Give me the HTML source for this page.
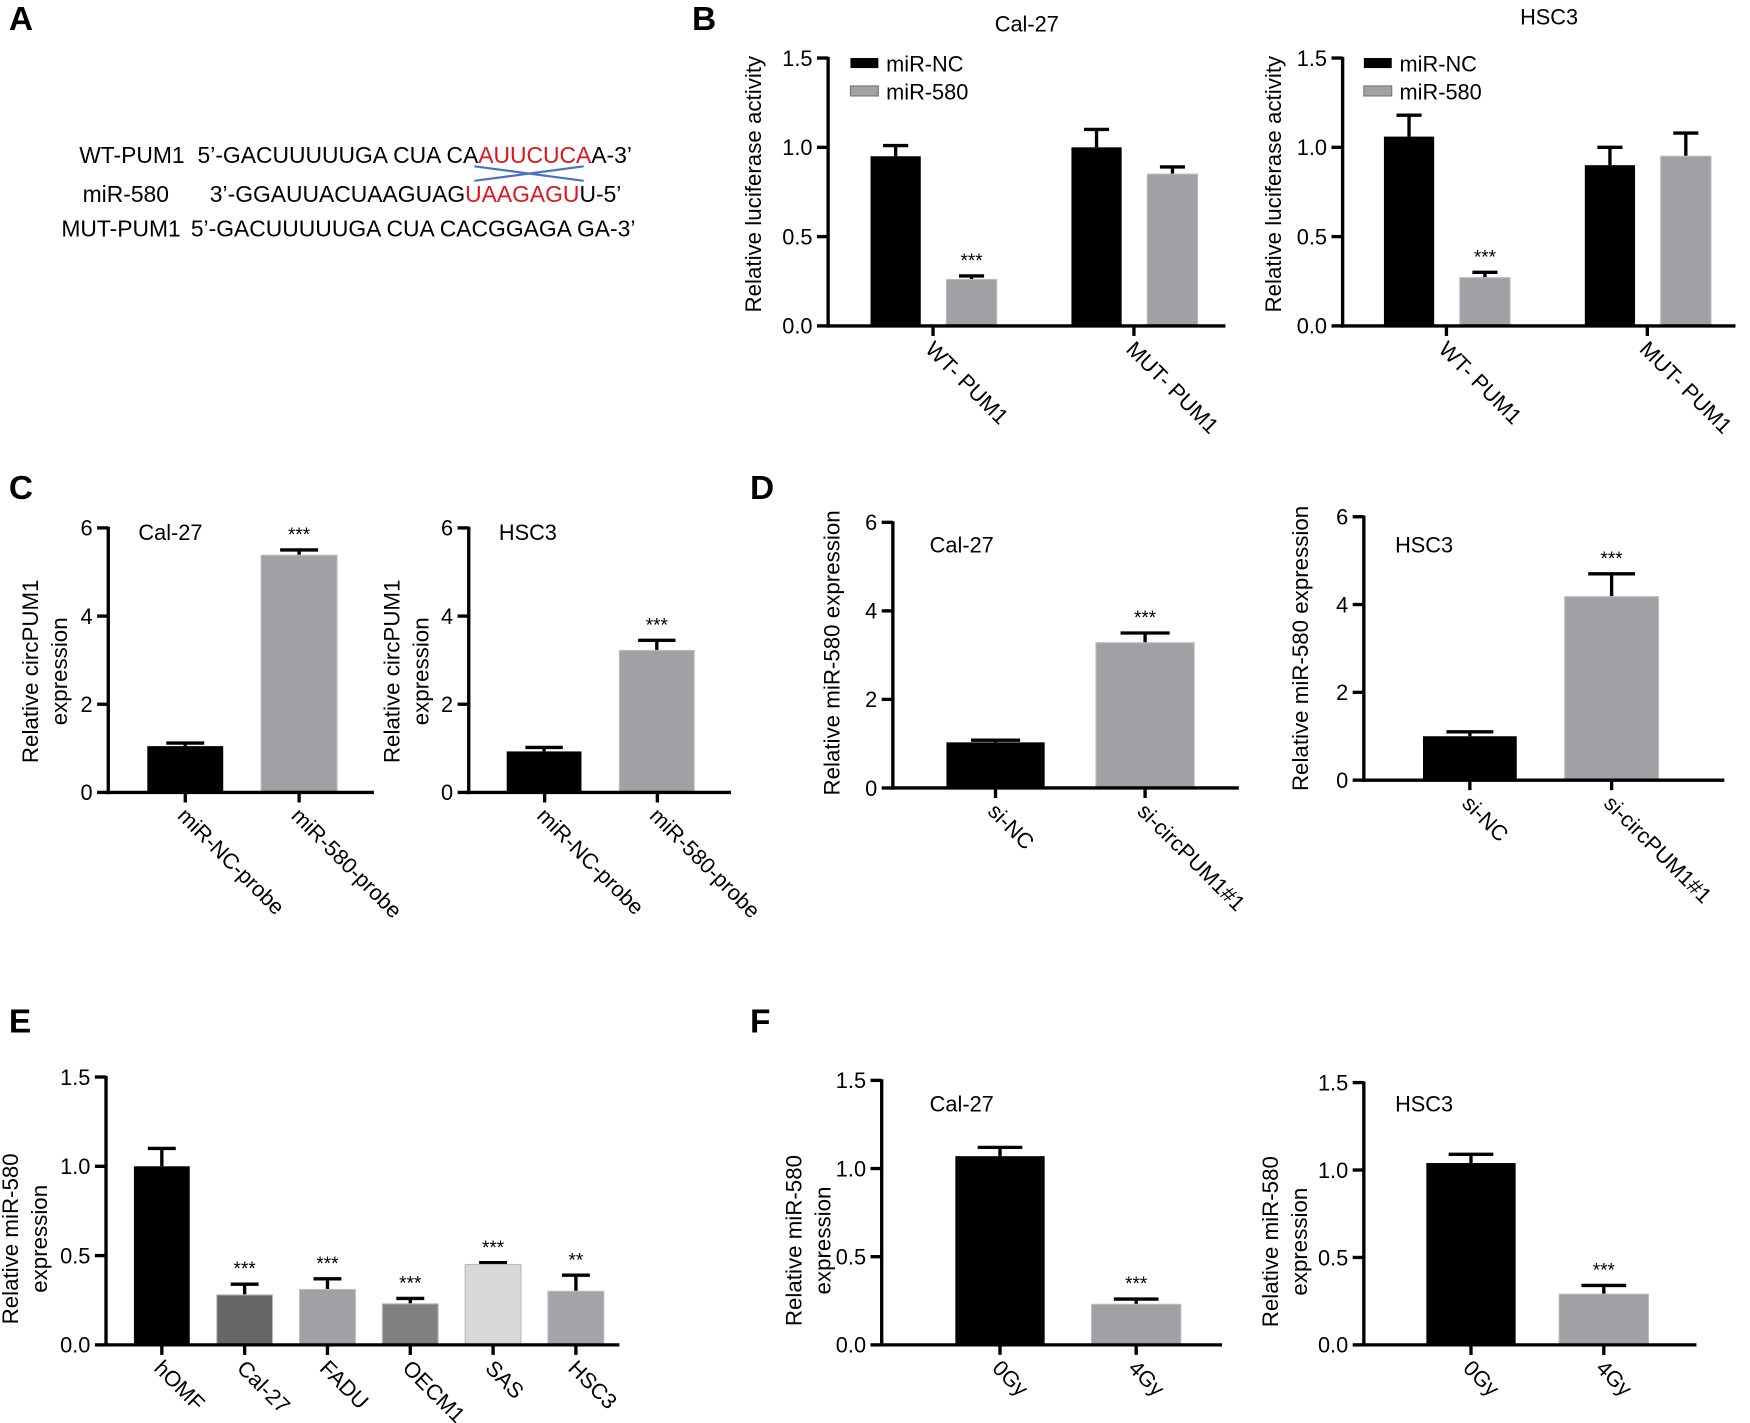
<!DOCTYPE html>
<html><head><meta charset="utf-8"><style>
html,body{margin:0;padding:0;background:#fff;}
svg{display:block;font-family:"Liberation Sans",Arial,sans-serif;}
</style></head><body>
<svg id="fig" width="1750" height="1423" viewBox="0 0 1568 1275" preserveAspectRatio="none" xmlns="http://www.w3.org/2000/svg">
<g font-size="20.5">
<text x="8" y="27" font-size="30" font-weight="bold">A</text>
<text x="71" y="146">WT-PUM1</text>
<text x="177" y="146">5’-GACUUUUUGA CUA CA<tspan fill="#e0141c">AUUCUCA</tspan>A-3’</text>
<text x="74" y="181">miR-580</text>
<text x="188" y="181">3’-GGAUUACUAAGUAG<tspan fill="#e0141c">UAAGAGU</tspan>U-5’</text>
<text x="55" y="212">MUT-PUM1</text>
<text x="171" y="212">5’-GACUUUUUGA CUA CACGGAGA GA-3’</text>
<line x1="425" y1="162" x2="523" y2="149" stroke="#4a72c4" stroke-width="2"/>
<line x1="425" y1="149" x2="523" y2="162" stroke="#4a72c4" stroke-width="2"/>
</g>
<text x="620" y="27" font-size="30" font-weight="bold">B</text>
<text x="8" y="447" font-size="30" font-weight="bold">C</text>
<text x="672" y="447" font-size="30" font-weight="bold">D</text>
<text x="8" y="925" font-size="30" font-weight="bold">E</text>
<text x="672" y="925" font-size="30" font-weight="bold">F</text>
</svg>
<script>
// ---- data ----
const bGroups = ["WT- PUM1", "MUT- PUM1"];
const bSeries = ["miR-NC", "miR-580"];
const bCalNC = [0.95, 1.00];
const bCalNCerr = [0.06, 0.10];
const bCal580 = [0.26, 0.85];
const bCal580err = [0.02, 0.04];
const bHscNC = [1.06, 0.90];
const bHscNCerr = [0.12, 0.10];
const bHsc580 = [0.27, 0.95];
const bHsc580err = [0.03, 0.13];
const bTicks = [0, 0.5, 1.0, 1.5];
const bTickLabels = ["0.0", "0.5", "1.0", "1.5"];

const cCats = ["miR-NC-probe", "miR-580-probe"];
const cCalVals = [1.05, 5.38];
const cCalErr = [0.07, 0.12];
const cHscVals = [0.93, 3.22];
const cHscErr = [0.09, 0.23];
const cSig = ["", "***"];
const sixTicks = [0, 2, 4, 6];
const sixTickLabels = ["0", "2", "4", "6"];

const dCats = ["si-NC", "si-circPUM1#1"];
const dCalVals = [1.03, 3.28];
const dCalErr = [0.05, 0.22];
const dHscVals = [1.00, 4.18];
const dHscErr = [0.10, 0.52];

const eCats = ["hOMF", "Cal-27", "FADU", "OECM1", "SAS", "HSC3"];
const eVals = [1.00, 0.28, 0.31, 0.23, 0.45, 0.30];
const eErr = [0.10, 0.06, 0.06, 0.03, 0.01, 0.09];
const eSig = ["", "***", "***", "***", "***", "**"];

const fCats = ["0Gy", "4Gy"];
const fCalVals = [1.07, 0.23];
const fCalErr = [0.05, 0.03];
const fHscVals = [1.04, 0.29];
const fHscErr = [0.05, 0.05];
const fSig = ["", "***"];

// ---- drawing ----
const NS = "http://www.w3.org/2000/svg";
const svg = document.getElementById("fig");
function mk(tag, attrs, parent, txt) {
  const e = document.createElementNS(NS, tag);
  for (const k in attrs) e.setAttribute(k, attrs[k]);
  if (txt !== undefined) e.textContent = txt;
  (parent || svg).appendChild(e);
  return e;
}
function chart(p) {
  const g = mk("g", {});
  
  
  const ys = v => p.yBot - (v / p.max) * (p.yBot - p.yTop);
  p.bars.forEach(b => {
    const top = ys(b.v), et = ys(b.v + b.e), cx = b.x + b.w / 2;
    const eb = mk("line", {x1: cx, x2: cx, y1: top, y2: et, stroke: "#000", "stroke-width": 3}, g);
    
    
    const cap = mk("line", {x1: cx - b.w * 0.25, x2: cx + b.w * 0.25, y1: et, y2: et, stroke: "#000", "stroke-width": 3}, g);
    
    
    const r = mk("rect", {x: b.x, y: top, width: b.w, height: p.yBot - top, fill: b.fill, stroke: b.fill === "#000" ? "none" : "#bbb", "stroke-width": 1}, g);
    
    
    if (b.sig) {
      const s = mk("text", {x: cx, y: et - 8, "text-anchor": "middle", "font-size": 17}, g, b.sig);
      
      
    }
  });
  const ya = mk("line", {x1: p.x0, x2: p.x0, y1: p.yTop - 1, y2: p.yBot + 1.5, stroke: "#000", "stroke-width": 3}, g);
  
  
  const xa = mk("line", {x1: p.x0 - 1.5, x2: p.x1, y1: p.yBot, y2: p.yBot, stroke: "#000", "stroke-width": 3}, g);
  
  
  p.ticks.forEach((t, i) => {
    const y = ys(t);
    const tk = mk("line", {x1: p.x0 - 10, x2: p.x0, y1: y, y2: y, stroke: "#000", "stroke-width": 3}, g);
    
    
    const tl = mk("text", {x: p.x0 - 14, y: y + 7, "text-anchor": "end", "font-size": 19.5}, g, p.labels[i]);
    
    
  });
  p.catCenters.forEach((cx, i) => {
    const tk = mk("line", {x1: cx, x2: cx, y1: p.yBot, y2: p.yBot + 9, stroke: "#000", "stroke-width": 3}, g);
    
    
    const lx = cx - 8, ly = p.yBot + 22;
    const tl = mk("text", {x: lx, y: ly, "font-size": 19.5, transform: `rotate(45 ${lx} ${ly})`}, g, p.cats[i]);
    
    
  });
  const cy = (p.yTop + p.yBot) / 2 + (p.ylabShift || 0);
  p.ylab.forEach((t, i) => {
    const x = p.ylabX[i];
    const yl = mk("text", {x: x, y: cy, "text-anchor": "middle", "font-size": 20, transform: `rotate(-90 ${x} ${cy})`}, g, t);
    
    
  });
  if (p.title) {
    const tt = mk("text", {x: p.titleX, y: p.titleY, "text-anchor": p.titleAnchor || "start", "font-size": 19.5}, g, p.title);
    
    
  }
  return g;
}
const GRAY = "#a0a0a5";
function legendB(x, g) {
  bSeries.forEach((s, i) => {
    const y = 57 + i * 25;
    const r = mk("rect", {x: x, y: y - 5, width: 25, height: 9, fill: i ? GRAY : "#000", stroke: i ? "#777" : "none"}, g);
    
    
    const t = mk("text", {x: x + 32, y: y + 7, "font-size": 19.5}, g, s);
    
    
  });
}
function bBars(nc, ncE, m, mE, x0) {
  const res = [];
  bGroups.forEach((_, i) => {
    const gx = x0 + i * 180;
    res.push({x: gx, w: 45, v: nc[i], e: ncE[i], fill: "#000"});
    res.push({x: gx + 68, w: 45, v: m[i], e: mE[i], fill: GRAY, sig: i === 0 ? "***" : ""});
  });
  return res;
}
let g;
g = chart({name: "chart-b-cal27", x0: 742, x1: 1098, yTop: 52, yBot: 292, max: 1.5, ticks: bTicks, labels: bTickLabels,
  bars: bBars(bCalNC, bCalNCerr, bCal580, bCal580err, 780), catCenters: [836, 1016], cats: bGroups,
  ylab: ["Relative luciferase activity"], ylabX: [682], ylabShift: -7, title: "Cal-27", titleX: 920, titleY: 28, titleAnchor: "middle"});
legendB(762, g);
g = chart({name: "chart-b-hsc3", x0: 1203, x1: 1555, yTop: 52, yBot: 292, max: 1.5, ticks: bTicks, labels: bTickLabels,
  bars: bBars(bHscNC, bHscNCerr, bHsc580, bHsc580err, 1240), catCenters: [1296, 1476], cats: bGroups,
  ylab: ["Relative luciferase activity"], ylabX: [1148], ylabShift: -7, title: "HSC3", titleX: 1388, titleY: 22, titleAnchor: "middle"});
legendB(1222, g);

function twoBars(vals, errs, xs, w, sig) {
  return vals.map((v, i) => ({x: xs[i], w: w, v: v, e: errs[i], fill: i ? GRAY : "#000", sig: sig[i]}));
}
chart({name: "chart-c-cal27", x0: 97, x1: 335, yTop: 473, yBot: 710, max: 6, ticks: sixTicks, labels: sixTickLabels,
  bars: twoBars(cCalVals, cCalErr, [132, 234], 68, cSig), catCenters: [166, 268], cats: cCats,
  ylab: ["Relative circPUM1", "expression"], ylabX: [34, 60], ylabShift: 10, title: "Cal-27", titleX: 124, titleY: 484});
chart({name: "chart-c-hsc3", x0: 420, x1: 655, yTop: 473, yBot: 710, max: 6, ticks: sixTicks, labels: sixTickLabels,
  bars: twoBars(cHscVals, cHscErr, [454, 555], 67, cSig), catCenters: [488, 589], cats: cCats,
  ylab: ["Relative circPUM1", "expression"], ylabX: [358, 384], ylabShift: 10, title: "HSC3", titleX: 447, titleY: 484});
chart({name: "chart-d-cal27", x0: 800, x1: 1110, yTop: 468, yBot: 706, max: 6, ticks: sixTicks, labels: sixTickLabels,
  bars: twoBars(dCalVals, dCalErr, [848, 982], 88, cSig), catCenters: [892, 1026], cats: dCats,
  ylab: ["Relative miR-580  expression"], ylabX: [752], ylabShift: -2, title: "Cal-27", titleX: 833, titleY: 495});
chart({name: "chart-d-hsc3", x0: 1222, x1: 1545, yTop: 463, yBot: 699, max: 6, ticks: sixTicks, labels: sixTickLabels,
  bars: twoBars(dHscVals, dHscErr, [1275, 1402], 84, cSig), catCenters: [1317, 1444], cats: dCats,
  ylab: ["Relative miR-580  expression"], ylabX: [1172], title: "HSC3", titleX: 1250, titleY: 495});
const eFills = ["#000", "#666666", "#a0a0a5", "#808080", "#d8d8d8", "#a3a3a8"];
chart({name: "chart-e", x0: 95, x1: 555, yTop: 965, yBot: 1205, max: 1.5, ticks: bTicks, labels: bTickLabels,
  bars: eVals.map((v, i) => ({x: 120 + i * 74.2, w: 50, v: v, e: eErr[i], fill: eFills[i], sig: eSig[i]})),
  catCenters: eVals.map((_, i) => 145 + i * 74.2), cats: eCats,
  ylab: ["Relative miR-580", "expression"], ylabX: [16, 42], ylabShift: 25});
chart({name: "chart-f-cal27", x0: 790, x1: 1095, yTop: 968, yBot: 1205, max: 1.5, ticks: bTicks, labels: bTickLabels,
  bars: twoBars(fCalVals, fCalErr, [856, 978], 80, fSig), catCenters: [896, 1018], cats: fCats,
  ylab: ["Relative miR-580", "expression"], ylabX: [718, 744], ylabShift: 25, title: "Cal-27", titleX: 833, titleY: 996});
chart({name: "chart-f-hsc3", x0: 1222, x1: 1520, yTop: 970, yBot: 1205, max: 1.5, ticks: bTicks, labels: bTickLabels,
  bars: twoBars(fHscVals, fHscErr, [1278, 1397], 80, fSig), catCenters: [1318, 1437], cats: fCats,
  ylab: ["Relative miR-580", "expression"], ylabX: [1145, 1171], ylabShift: 25, title: "HSC3", titleX: 1250, titleY: 996});
</script>
</body></html>
